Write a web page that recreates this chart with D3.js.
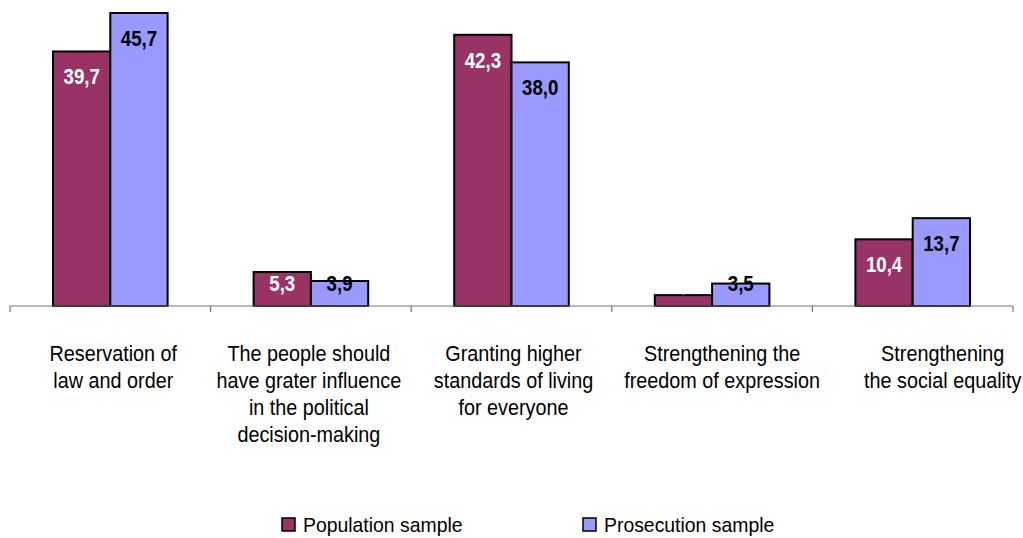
<!DOCTYPE html>
<html><head><meta charset="utf-8">
<script src="https://cdn.jsdelivr.net/npm/d3@7"></script>
<style>body{margin:0;background:#fff;} svg{display:block;}</style>
</head><body>
<svg id="chart" width="1023" height="538"></svg>
<script>
const categories = [
  ["Reservation of","law and order"],
  ["The people should","have grater influence","in the political","decision-making"],
  ["Granting higher","standards of living","for everyone"],
  ["Strengthening the","freedom of expression"],
  ["Strengthening","the social equality"]
];
const seriesNames = ["Population sample","Prosecution sample"];
const population = [39.7, 5.3, 42.3, 1.7, 10.4];
const prosecution = [45.7, 3.9, 38.0, 3.5, 13.7];
const colors = ["#993366","#9999ff"];
const labelColors = ["#ffffff","#000000"];

const svg = d3.select("#chart");
const x0 = d3.scaleBand().domain(d3.range(categories.length)).range([10,1013]).paddingInner(0).paddingOuter(0);
const x1 = d3.scaleBand().domain([0,1]).range([43, x0.bandwidth()-43]);
const y = d3.scaleLinear().domain([0,45.7]).range([306,13]);

const fmt = v => d3.format(".1f")(v).replace(".", ",");
const data = [population, prosecution];
const FONT = "'Liberation Sans',Arial,sans-serif";

const g = svg.append("g");
data.forEach((vals, s) => {
  g.selectAll(null).data(vals).enter().append("rect")
    .attr("x", (d,i) => x0(i) + x1(s))
    .attr("y", d => y(d))
    .attr("width", x1.bandwidth())
    .attr("height", d => y(0) - y(d))
    .attr("fill", colors[s]).attr("stroke","#000").attr("stroke-width",2);
});

// axis
const axis = svg.append("g").attr("transform","translate(0,306)");
axis.append("line").attr("x1",10).attr("x2",1013).attr("stroke","#777").attr("stroke-width",1.2);
const ticks = d3.range(categories.length+1).map(i => i < categories.length ? x0(i) : x0.range()[1]);
axis.selectAll(null).data(ticks).enter().append("line")
  .attr("x1", d=>d).attr("x2", d=>d).attr("y1",0).attr("y2",6).attr("stroke","#777").attr("stroke-width",1.2);

// value labels (condensed)
data.forEach((vals, s) => {
  g.selectAll(null).data(vals).enter().append("text")
    .attr("transform", (d,i) => `translate(${x0(i) + x1(s) + x1.bandwidth()/2},${Math.min(y(d) + 33, 291)}) scale(0.83,1)`)
    .attr("text-anchor","middle")
    .attr("font-family",FONT)
    .attr("font-weight","bold").attr("font-size",22.5)
    .attr("fill", labelColors[s])
    .text(d => fmt(d));
});

// category labels
const shift = [3, -2, 2, 10, 30];
categories.forEach((lines, i) => {
  lines.forEach((ln, j) => {
    svg.append("text")
      .attr("transform", `translate(${x0(i) + x0.bandwidth()/2 + shift[i]},${361 + j*27}) scale(0.9,1)`)
      .attr("text-anchor","middle")
      .attr("font-family",FONT)
      .attr("font-size",22).attr("fill","#000")
      .text(ln);
  });
});

// legend
const legX = [282, 583];
seriesNames.forEach((n, s) => {
  svg.append("rect").attr("x", legX[s]).attr("y", 518).attr("width",13).attr("height",13)
    .attr("fill", colors[s]).attr("stroke","#000").attr("stroke-width",1.5);
  svg.append("text").attr("transform", `translate(${legX[s]+21},532) scale(0.97,1)`)
    .attr("font-family",FONT).attr("font-size",20).text(n);
});
</script>
</body></html>
